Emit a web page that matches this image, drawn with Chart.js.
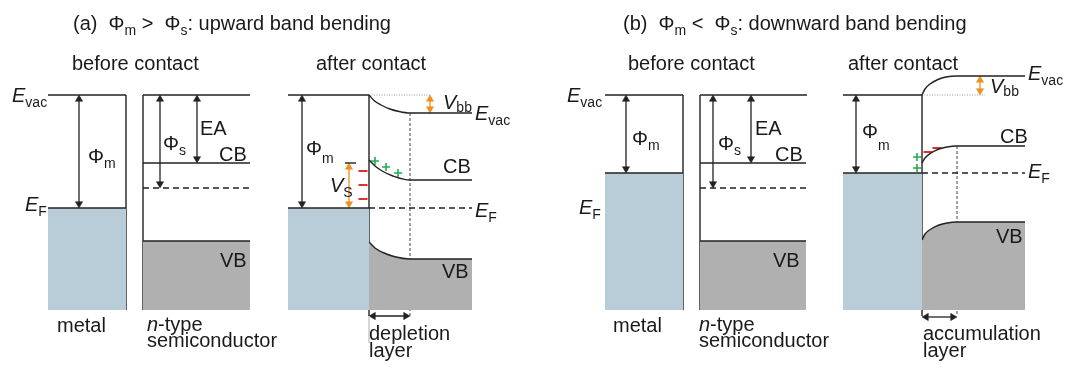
<!DOCTYPE html>
<html>
<head>
<meta charset="utf-8">
<script src="https://cdn.jsdelivr.net/npm/chart.js@4/dist/chart.umd.min.js"></script>
<style>
  html, body { margin: 0; padding: 0; background: #fff; }
  canvas { display: block; }
</style>
</head>
<body>
<canvas id="bands" width="1068" height="371"></canvas>
<script>
// diagram units: x to the right, y = energy drawn downward (reversed axis)
var fillBottom = 310;

// plain level lines [x1, y1, x2, y2]
var solidLines = [
  [48, 95, 126, 95], [126, 95, 126, 310],
  [143, 95, 143, 310], [143, 95, 250, 95], [143, 163, 250, 163],
  [288, 95, 369, 95], [369, 95, 369, 316],
  [605, 95, 683, 95], [683, 95, 683, 310],
  [700, 95, 700, 310], [700, 95, 807, 95], [700, 163, 806, 163],
  [843, 95, 922, 95], [922, 95, 922, 316]
];
var faintLines = [[369, 316, 369, 343]];
var fermiDashed = [
  [143, 188, 253, 188], [369, 208, 472, 208],
  [700, 188, 810, 188], [922, 173, 1025, 173]
];
var layerDashed = [[410, 113, 410, 316], [957, 146, 957, 316]];
var vacDotted = [[369, 95, 430, 95], [922, 95, 985, 95]];

// filled bands [x1, x2, top]
var metalFills = [[48, 126, 208], [288, 369, 208], [605, 683, 173], [843, 922, 173]];
var vbFlat = [[143, 250, 241], [700, 806, 241]];

// bent bands after contact
var evacUp = [[369, 95], [374, 100.5], [381, 105], [390, 109], [399, 111.5], [410, 113], [472, 113]];
var cbUp = [[369, 160], [375, 166], [383, 171.5], [393, 176], [410, 180], [472, 180]];
var vbUp = [[369, 242], [375, 248], [383, 252.5], [394, 256.5], [410, 259], [472, 259]];
var evacDown = [[922, 95], [925, 89], [930, 84], [938, 79.5], [946, 77], [957, 76], [1025, 76]];
var cbDown = [[922, 163], [925, 158], [931, 153], [939, 149], [947, 147], [957, 146], [1025, 146]];
var vbDown = [[922, 240], [925, 234], [931, 229], [939, 225], [947, 223], [957, 222], [1025, 222]];

// arrows [x, y1, y2] vertical, [x1, x2, y] horizontal
var blackArrows = [[79, 95, 208], [160, 95, 188], [197, 95, 163], [302, 95, 208],
  [626, 95, 173], [713, 95, 188], [751, 95, 163], [856, 95, 173]];
var orangeArrows = [[430, 95, 113], [349, 163, 208], [980, 76, 95]];
var widthArrows = [[369, 410, 316], [922, 957, 317]];
var vsTick = [[345, 163, 356, 163]];

// surface charges
var plusSigns = [[375, 161], [386, 167], [398, 173], [917, 157], [917, 168]];
var minusSigns = [[363, 171], [363, 185], [363, 199], [928, 152], [937, 148]];

// text: [x, baseline, parts, subscript drop]
var labels = [
  [73, 30, [['(a)  Φ'], ['m', 's'], [' >  Φ'], ['s', 's'], [': upward band bending']]],
  [623, 30, [['(b)  Φ'], ['m', 's'], [' <  Φ'], ['s', 's'], [': downward band bending']]],
  [72, 70, [['before contact']]], [316, 70, [['after contact']]],
  [628, 70, [['before contact']]], [848, 70, [['after contact']]],

  [12, 102, [['E', 'i'], ['vac', 's']]],
  [25, 211, [['E', 'i'], ['F', 's']]],
  [88, 163, [['Φ'], ['m', 's']]],
  [163, 150, [['Φ'], ['s', 's']]],
  [200, 135, [['EA']]], [219, 161, [['CB']]], [220, 267, [['VB']]],
  [57, 332, [['metal']]],
  [147, 331, [['n', 'i'], ['-type']]], [147, 347, [['semiconductor']]],

  [306, 155, [['Φ'], ['m', 's']], 8],
  [330, 192, [['V', 'i'], ['S', 's']]],
  [443, 109, [['V', 'i'], ['bb', 's']], 3],
  [475, 120, [['E', 'i'], ['vac', 's']]],
  [443, 173, [['CB']]],
  [475, 217, [['E', 'i'], ['F', 's']]],
  [442, 278, [['VB']]],
  [369, 340, [['depletion']]], [369, 357, [['layer']]],

  [567, 102, [['E', 'i'], ['vac', 's']]],
  [579, 214, [['E', 'i'], ['F', 's']]],
  [632, 145, [['Φ'], ['m', 's']]],
  [718, 150, [['Φ'], ['s', 's']]],
  [755, 135, [['EA']]], [775, 161, [['CB']]], [773, 267, [['VB']]],
  [613, 332, [['metal']]],
  [699, 331, [['n', 'i'], ['-type']]], [699, 347, [['semiconductor']]],

  [862, 138, [['Φ'], ['m', 's']], 12],
  [990, 93, [['V', 'i'], ['bb', 's']], 3],
  [1028, 80, [['E', 'i'], ['vac', 's']]],
  [1000, 143, [['CB']]],
  [1028, 178, [['E', 'i'], ['F', 's']]],
  [996, 243, [['VB']]],
  [923, 340, [['accumulation']]], [923, 357, [['layer']]]
];

var ink = '#222';
var blue = '#b9cdd9';
var grey = '#b0b0b0';
var orange = '#f0901e';
var FONT = '"Liberation Sans", Arial, sans-serif';
var HEAD = 4.2;

function pts(list) {
  return list.map(function (p) { return { x: p[0], y: p[1] }; });
}
function line(points, color, width, dash) {
  return {
    data: pts(points), borderColor: color, borderWidth: width,
    borderDash: dash || [], pointRadius: 0, fill: false, tension: 0
  };
}

var datasets = [];

// fills first so the lines sit on top
metalFills.forEach(function (f) {
  datasets.push({
    data: pts([[f[0], f[2]], [f[1], f[2]]]), borderColor: ink, borderWidth: 1.4,
    backgroundColor: blue, fill: { value: fillBottom }, pointRadius: 0
  });
});
vbFlat.forEach(function (f) {
  datasets.push({
    data: pts([[f[0], f[2]], [f[1], f[2]]]), borderColor: ink, borderWidth: 1.4,
    backgroundColor: grey, fill: { value: fillBottom }, pointRadius: 0
  });
});
[vbUp, vbDown].forEach(function (c) {
  datasets.push({
    data: pts(c), borderColor: ink, borderWidth: 1.4, backgroundColor: grey,
    fill: { value: fillBottom }, pointRadius: 0, cubicInterpolationMode: 'monotone'
  });
});
[evacUp, cbUp, evacDown, cbDown].forEach(function (c) {
  var d = line(c, ink, 1.4);
  d.cubicInterpolationMode = 'monotone';
  datasets.push(d);
});

solidLines.forEach(function (l) { datasets.push(line([[l[0], l[1]], [l[2], l[3]]], ink, 1.4)); });
faintLines.forEach(function (l) { datasets.push(line([[l[0], l[1]], [l[2], l[3]]], '#d0d0d0', 1)); });
fermiDashed.forEach(function (l) { datasets.push(line([[l[0], l[1]], [l[2], l[3]]], ink, 1.3, [6, 4])); });
layerDashed.forEach(function (l) { datasets.push(line([[l[0], l[1]], [l[2], l[3]]], '#444', 1, [3, 2])); });
vacDotted.forEach(function (l) { datasets.push(line([[l[0], l[1]], [l[2], l[3]]], '#999', 1, [1, 1.5])); });
vsTick.forEach(function (l) { datasets.push(line([[l[0], l[1]], [l[2], l[3]]], ink, 1.4)); });

function vArrow(a, color) {
  datasets.push(line([[a[0], a[1] + HEAD], [a[0], a[2] - HEAD]], color, 1.3));
  datasets.push({
    data: pts([[a[0], a[1] + HEAD], [a[0], a[2] - HEAD]]), showLine: false,
    pointStyle: 'triangle', pointRadius: HEAD, pointRotation: [0, 180],
    pointBackgroundColor: color, pointBorderColor: color, pointBorderWidth: 0.5
  });
}
blackArrows.forEach(function (a) { vArrow(a, ink); });
orangeArrows.forEach(function (a) { vArrow(a, orange); });
widthArrows.forEach(function (a) {
  datasets.push(line([[a[0] + HEAD, a[2]], [a[1] - HEAD, a[2]]], ink, 1.3));
  datasets.push({
    data: pts([[a[0] + HEAD, a[2]], [a[1] - HEAD, a[2]]]), showLine: false,
    pointStyle: 'triangle', pointRadius: HEAD, pointRotation: [270, 90],
    pointBackgroundColor: ink, pointBorderColor: ink, pointBorderWidth: 0.5
  });
});

datasets.push({
  data: pts(plusSigns), showLine: false, pointStyle: 'cross', pointRadius: 4,
  pointBorderColor: '#1fae4e', pointBorderWidth: 1.6
});
datasets.push({
  data: pts(minusSigns), showLine: false, pointStyle: 'line', pointRadius: 4.5,
  pointBorderColor: '#e0302c', pointBorderWidth: 2
});

// text with italic letters and subscripts
var textPlugin = {
  id: 'bandText',
  afterDatasetsDraw: function (chart) {
    var ctx = chart.ctx;
    var xs = chart.scales.x, ys = chart.scales.y;
    ctx.save();
    ctx.fillStyle = '#1a1a1a';
    ctx.textBaseline = 'alphabetic';
    labels.forEach(function (lab) {
      var x = xs.getPixelForValue(lab[0]);
      var y = ys.getPixelForValue(lab[1]);
      var drop = lab[3] || 5;
      lab[2].forEach(function (part) {
        var style = part[1];
        var dy = 0;
        if (style === 's') { ctx.font = '14px ' + FONT; dy = drop; }
        else if (style === 'i') { ctx.font = 'italic 20px ' + FONT; }
        else { ctx.font = '20px ' + FONT; }
        ctx.fillText(part[0], x, y + dy);
        x += ctx.measureText(part[0]).width;
      });
    });
    ctx.restore();
  }
};

new Chart(document.getElementById('bands').getContext('2d'), {
  type: 'line',
  data: { datasets: datasets },
  options: {
    responsive: false,
    animation: false,
    events: [],
    layout: { padding: 0, autoPadding: false },
    scales: {
      x: { type: 'linear', min: 0, max: 1068, display: false },
      y: { type: 'linear', min: 0, max: 371, reverse: true, display: false }
    },
    plugins: { legend: { display: false }, tooltip: { enabled: false } }
  },
  plugins: [textPlugin]
});
</script>
</body>
</html>
